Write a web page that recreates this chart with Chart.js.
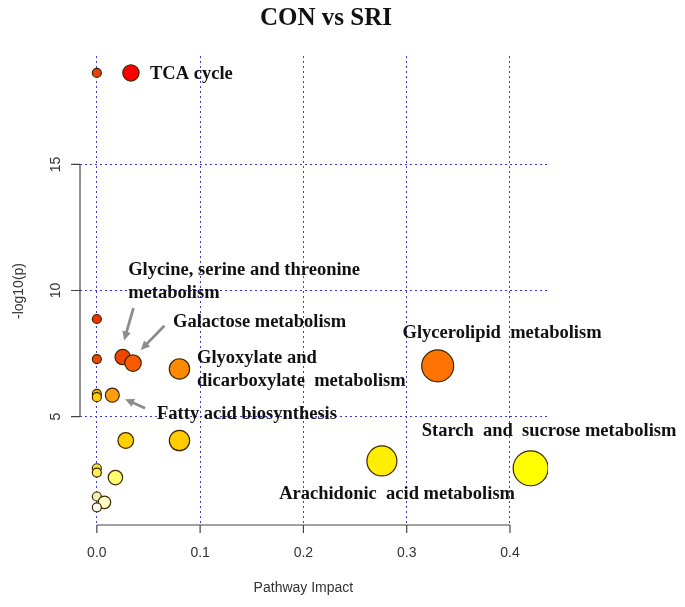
<!DOCTYPE html>
<html>
<head>
<meta charset="utf-8">
<script src="https://cdn.jsdelivr.net/npm/chart.js@4/dist/chart.umd.min.js"></script>
<style>
  html, body { margin: 0; padding: 0; background: #fff; }
</style>
</head>
<body>
<canvas id="pathway-chart" width="685" height="607"></canvas>
<script>
///// Data /////
// pathway impact (x) and -log10(p) (y), one entry per pathway
const impact = [0, 0.033, 0, 0, 0.025, 0.035, 0.08, 0.33, 0, 0, 0.015,
                0.028, 0.08, 0.276, 0.42, 0, 0, 0.018, 0, 0.0074, 0];
const logP = [18.63, 18.63, 8.87, 7.28, 7.36, 7.12, 6.89, 7.01, 5.9, 5.77, 5.85,
              4.05, 4.05, 3.24, 2.95, 2.95, 2.78, 2.58, 1.83, 1.60, 1.40];
const fillColors = ['#e8400c', '#ff0000', '#ec3400', '#f04800', '#f04400', '#fa5a00',
                    '#ff8a00', '#ff7400', '#f0b800', '#ffd000', '#ff9c10',
                    '#ffd000', '#ffcc00', '#ffee00', '#ffff00', '#f4e640', '#fff050',
                    '#ffff70', '#f2f2b0', '#ffffc8', '#fffff2'];
const xTicks = [0, 0.1, 0.2, 0.3, 0.4];
const yTicks = [5, 10, 15];

// text labels, anchored in data units (left edge, first line centre)
const notes = [
  { x: 0.0515, y: 18.56, lines: ['TCA cycle'] },
  { x: 0.0303, y: 10.82, lines: ['Glycine, serine and threonine', 'metabolism'] },
  { x: 0.0738, y: 8.75, lines: ['Galactose metabolism'] },
  { x: 0.097, y: 7.32, lines: ['Glyoxylate and', 'dicarboxylate  metabolism'] },
  { x: 0.0583, y: 5.1, lines: ['Fatty acid biosynthesis'] },
  { x: 0.296, y: 8.3, lines: ['Glycerolipid  metabolism'] },
  { x: 0.3145, y: 4.42, lines: ['Starch  and  sucrose metabolism'] },
  { x: 0.1765, y: 1.93, lines: ['Arachidonic  acid metabolism'] }
];
const arrows = [
  { from: [0.0354, 9.30], to: [0.0264, 8.02] },
  { from: [0.0654, 8.60], to: [0.0426, 7.64] },
  { from: [0.0467, 5.33], to: [0.0274, 5.69] }
];

const points = impact.map((v, i) => ({ x: v, y: logP[i] }));

///// Extra drawing: R style axes, title, notes /////
const decor = {
  id: 'decor',
  afterDatasetsDraw(chart) {
    const ctx = chart.ctx;
    const xs = chart.scales.x, ys = chart.scales.y;
    ctx.save();
    // arrows
    ctx.strokeStyle = '#8c8c8c';
    ctx.fillStyle = '#8c8c8c';
    ctx.lineWidth = 2.8;
    arrows.forEach(a => {
      const x1 = xs.getPixelForValue(a.from[0]), y1 = ys.getPixelForValue(a.from[1]);
      const x2 = xs.getPixelForValue(a.to[0]), y2 = ys.getPixelForValue(a.to[1]);
      const ang = Math.atan2(y2 - y1, x2 - x1);
      ctx.beginPath();
      ctx.moveTo(x1, y1);
      ctx.lineTo(x2 - 4 * Math.cos(ang), y2 - 4 * Math.sin(ang));
      ctx.stroke();
      ctx.beginPath();
      ctx.moveTo(x2, y2);
      ctx.lineTo(x2 - 10 * Math.cos(ang - 0.45), y2 - 10 * Math.sin(ang - 0.45));
      ctx.lineTo(x2 - 10 * Math.cos(ang + 0.45), y2 - 10 * Math.sin(ang + 0.45));
      ctx.closePath();
      ctx.fill();
    });
    // notes
    ctx.fillStyle = '#111';
    ctx.font = 'bold 18.5px "Liberation Serif", "Times New Roman", serif';
    ctx.textAlign = 'left';
    ctx.textBaseline = 'middle';
    notes.forEach(n => {
      const x = xs.getPixelForValue(n.x), y = ys.getPixelForValue(n.y);
      n.lines.forEach((t, k) => ctx.fillText(t, x, y + k * 23.5));
    });
    ctx.restore();
  },
  afterDraw(chart) {
    const ctx = chart.ctx;
    const xs = chart.scales.x, ys = chart.scales.y;
    const area = chart.chartArea;
    ctx.save();
    ctx.strokeStyle = '#444';
    ctx.lineWidth = 1.2;
    ctx.fillStyle = '#333';
    ctx.font = '14px "Liberation Sans", Arial, sans-serif';
    // x axis
    const xb = area.bottom;
    ctx.beginPath();
    ctx.moveTo(xs.getPixelForValue(xTicks[0]), xb);
    ctx.lineTo(xs.getPixelForValue(xTicks[xTicks.length - 1]), xb);
    xTicks.forEach(v => {
      const p = xs.getPixelForValue(v);
      ctx.moveTo(p, xb);
      ctx.lineTo(p, xb + 8);
    });
    ctx.stroke();
    ctx.textAlign = 'center';
    ctx.textBaseline = 'middle';
    xTicks.forEach(v => ctx.fillText(v.toFixed(1), xs.getPixelForValue(v), 553));
    ctx.fillText('Pathway Impact', (xs.getPixelForValue(0) + xs.getPixelForValue(0.4)) / 2, 588);
    // y axis
    const yl = area.left;
    ctx.beginPath();
    ctx.moveTo(yl, ys.getPixelForValue(yTicks[0]));
    ctx.lineTo(yl, ys.getPixelForValue(yTicks[yTicks.length - 1]));
    yTicks.forEach(v => {
      const p = ys.getPixelForValue(v);
      ctx.moveTo(yl, p);
      ctx.lineTo(yl - 9, p);
    });
    ctx.stroke();
    yTicks.forEach(v => {
      ctx.save();
      ctx.translate(56, ys.getPixelForValue(v));
      ctx.rotate(-Math.PI / 2);
      ctx.fillText(String(v), 0, 0);
      ctx.restore();
    });
    ctx.save();
    ctx.translate(19, 291);
    ctx.rotate(-Math.PI / 2);
    ctx.fillText('-log10(p)', 0, 0);
    ctx.restore();
    // title
    ctx.fillStyle = '#111';
    ctx.font = 'bold 25px "Liberation Serif", "Times New Roman", serif';
    ctx.fillText('CON vs SRI', 326, 19);
    ctx.restore();
  }
};

const gridStyle = { color: '#3a3ad8', lineWidth: 1, drawTicks: false };

const config = {
  type: 'scatter',
  data: {
    datasets: [{
      data: points,
      backgroundColor: fillColors,
      borderColor: '#3c2600',
      borderWidth: 1.2,
      pointRadius: ctx => 4.5 + 20 * Math.sqrt(impact[ctx.dataIndex] || 0),
      pointHoverRadius: ctx => 4.5 + 20 * Math.sqrt(impact[ctx.dataIndex] || 0)
    }]
  },
  options: {
    responsive: false,
    animation: false,
    devicePixelRatio: 1,
    layout: { padding: { left: 80, right: 137, top: 56, bottom: 82 } },
    plugins: { legend: { display: false }, tooltip: { enabled: false } },
    scales: {
      x: {
        type: 'linear',
        min: -0.0163,
        max: 0.4368,
        grid: gridStyle,
        border: { display: false, dash: [2, 3] },
        ticks: { display: false },
        afterBuildTicks: s => { s.ticks = xTicks.map(v => ({ value: v })); },
        afterFit: s => { s.height = 0; }
      },
      y: {
        type: 'linear',
        min: 0.7,
        max: 19.3,
        grid: gridStyle,
        border: { display: false, dash: [2, 3] },
        ticks: { display: false },
        afterBuildTicks: s => { s.ticks = yTicks.map(v => ({ value: v })); },
        afterFit: s => { s.width = 0; }
      }
    }
  },
  plugins: [decor]
};

let pathwayChart = new Chart(document.getElementById('pathway-chart'), config);
</script>
</body>
</html>
